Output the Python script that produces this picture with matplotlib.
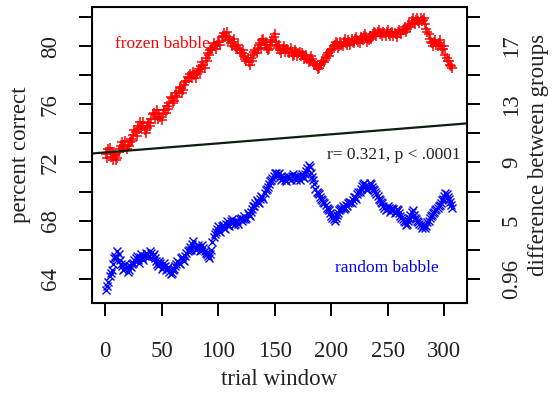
import numpy as np
import matplotlib
matplotlib.use("Agg")
import matplotlib.pyplot as plt

plt.rcParams['font.family'] = ['Liberation Serif', 'DejaVu Serif']

trials_odd = np.arange(1, 308, 2)
trials_even = np.arange(2, 307, 2)

frozen_odd = [
    72.6, 72.9, 72.4, 72.2, 72.5, 72.3, 72.9, 73.4, 73.2, 72.9,
    73.1, 73.6, 73.9, 74.1, 74.5, 74.8, 74.5, 74.2, 74.4, 74.7,
    75.0, 75.4, 75.3, 75.0, 75.1, 75.3, 75.6, 75.9, 76.1, 76.4,
    76.2, 76.8, 76.9, 77.1, 77.0, 77.5, 77.9, 78.1, 77.8, 78.0,
    78.1, 78.4, 78.6, 78.7, 79.2, 79.5, 79.7, 79.9, 80.0, 80.1,
    80.3, 80.6, 80.9, 80.7, 80.4, 80.2, 80.3, 80.0, 79.9, 79.7,
    79.5, 79.3, 79.0, 78.9, 79.2, 79.4, 79.7, 79.8, 80.2, 80.4,
    80.1, 79.9, 79.8, 80.3, 80.6, 80.3, 79.9, 79.7, 79.8, 79.6,
    79.8, 79.5, 79.6, 79.4, 79.6, 79.5, 79.3, 79.4, 79.3, 79.1,
    79.0, 79.1, 78.8, 78.6, 78.5, 78.8, 79.0, 79.2, 79.5, 79.6,
    79.8, 80.1, 80.2, 80.0, 80.1, 80.3, 80.2, 80.4, 80.1, 80.3,
    80.5, 80.4, 80.2, 80.5, 80.7, 80.6, 80.4, 80.5, 80.8, 80.9,
    81.0, 80.8, 80.7, 80.9, 81.0, 80.8, 80.9, 80.7, 80.8, 81.0,
    80.9, 81.1, 81.3, 81.2, 81.5, 81.7, 81.6, 81.8, 81.7, 81.9,
    81.8, 81.5, 81.0, 80.5, 80.2, 80.3, 80.1, 80.2, 80.0, 79.8,
    79.4, 79.0, 78.7, 78.5,
]
frozen_even = [
    72.3, 73.0, 72.7, 72.6, 72.2, 72.7, 73.1, 73.0, 73.5, 73.2,
    73.4, 73.5, 74.2, 73.8, 74.3, 74.4, 74.8, 74.0, 74.7, 74.5,
    75.3, 75.0, 75.6, 75.3, 74.9, 75.6, 75.4, 75.7, 76.5, 76.1,
    76.6, 76.5, 77.2, 76.8, 77.3, 77.6, 77.8, 77.9, 78.2, 77.8,
    78.3, 78.2, 78.9, 78.5, 79.0, 79.4, 79.8, 80.2, 79.8, 80.3,
    80.1, 80.7, 80.6, 81.0, 80.6, 80.0, 80.5, 79.8, 80.1, 79.5,
    79.7, 79.1, 79.2, 78.7, 79.0, 79.6, 79.5, 80.1, 79.9, 80.5,
    80.3, 79.7, 80.1, 80.4, 80.8, 80.0, 80.1, 79.5, 80.0, 79.8,
    79.6, 79.9, 79.3, 79.7, 79.3, 79.6, 79.5, 79.1, 79.4, 78.9,
    79.3, 78.9, 78.7, 78.4, 78.7, 79.0, 78.9, 79.4, 79.3, 79.7,
    80.0, 80.3, 79.9, 80.3, 80.0, 80.5, 80.1, 80.3, 80.5, 80.2,
    80.6, 80.3, 80.6, 80.4, 80.8, 80.3, 80.7, 80.6, 81.0, 80.7,
    81.1, 80.9, 81.0, 80.7, 81.1, 80.7, 81.0, 80.9, 80.6, 81.1,
    80.8, 81.2, 81.0, 81.4, 81.3, 81.9, 81.5, 81.9, 81.6, 81.7,
    81.9, 81.2, 80.8, 80.3, 80.0, 80.4, 80.0, 80.4, 79.8, 80.0,
    79.2, 79.0, 78.6,
]

random_odd = [
    63.2, 63.8, 64.4, 65.0, 65.6, 65.9, 65.3, 64.9, 64.7, 64.8,
    64.6, 64.8, 65.1, 65.4, 65.3, 65.5, 65.4, 65.6, 65.7, 65.6,
    65.8, 65.7, 65.2, 64.9, 65.1, 64.8, 64.9, 64.7, 64.5, 64.4,
    64.7, 65.0, 65.1, 65.4, 65.3, 65.6, 65.9, 66.2, 66.4, 66.2,
    66.1, 66.2, 66.0, 66.1, 65.8, 65.6, 65.7, 66.5, 67.1, 67.4,
    67.3, 67.6, 67.5, 67.8, 67.7, 68.0, 67.9, 67.8, 68.0, 68.1,
    68.0, 68.3, 68.2, 68.4, 68.6, 69.0, 69.2, 69.3, 69.5, 69.6,
    69.9, 70.2, 70.5, 70.8, 71.1, 71.3, 71.2, 71.0, 70.9, 70.8,
    71.0, 70.9, 71.1, 71.0, 70.8, 71.0, 71.1, 71.0, 71.2, 71.6,
    71.7, 71.0, 70.5, 70.0, 69.8, 69.5, 69.3, 69.1, 68.8, 68.5,
    68.2, 68.0, 68.4, 68.7, 68.9, 68.8, 69.1, 69.2, 69.3, 69.4,
    69.6, 69.8, 70.0, 70.4, 70.6, 70.2, 70.3, 70.5, 70.2, 70.0,
    69.7, 69.4, 69.2, 68.9, 68.8, 68.9, 68.7, 68.8, 68.6, 68.7,
    68.3, 68.1, 67.9, 67.8, 68.2, 68.6, 68.4, 68.1, 67.9, 67.7,
    67.6, 67.5, 67.9, 68.2, 68.4, 68.6, 68.8, 69.0, 69.2, 69.5,
    69.9, 69.6, 69.3, 68.9,
]
random_even = [
    63.5, 64.2, 64.6, 65.4, 65.4, 65.7, 65.0, 64.6, 65.0, 64.5,
    64.9, 65.0, 65.3, 65.6, 65.1, 65.7, 65.3, 65.8, 65.5, 65.9,
    65.6, 65.4, 65.0, 65.2, 64.7, 65.1, 64.6, 64.8, 64.3, 64.6,
    64.9, 65.2, 65.0, 65.5, 65.2, 65.8, 66.0, 66.0, 66.6, 66.0,
    66.3, 65.9, 66.3, 65.9, 65.7, 65.4, 66.0, 66.9, 67.2, 67.6,
    67.2, 67.7, 67.4, 68.0, 67.6, 68.1, 67.7, 68.0, 67.8, 68.2,
    68.1, 68.1, 68.5, 68.3, 68.8, 69.0, 69.4, 69.2, 69.7, 69.5,
    70.1, 70.3, 70.7, 70.9, 71.3, 71.1, 71.3, 70.8, 71.0, 70.7,
    71.1, 70.8, 71.2, 70.9, 71.1, 70.8, 71.2, 70.9, 71.4, 71.8,
    71.3, 70.8, 70.2, 69.9, 69.6, 69.4, 69.2, 68.9, 68.7, 68.3,
    68.1, 68.2, 68.5, 68.8, 69.0, 68.9, 69.0, 69.3, 69.2, 69.6,
    69.5, 70.0, 70.2, 70.5, 70.4, 70.1, 70.6, 70.3, 70.1, 69.8,
    69.5, 69.3, 69.0, 68.7, 69.0, 68.6, 68.9, 68.5, 68.8, 68.5,
    68.2, 68.0, 67.7, 68.0, 68.4, 68.7, 68.2, 68.0, 67.8, 67.5,
    67.7, 67.6, 68.0, 68.3, 68.5, 68.7, 68.9, 69.1, 69.4, 69.7,
    69.8, 69.5, 69.1,
]

# regression line of the group difference (drawn across the whole panel)
fit_intercept = 72.69
fit_slope = 0.00624

left_ticks = [64, 66, 68, 70, 72, 74, 76, 78, 80, 82]
left_labels = ["64", "", "68", "", "72", "", "76", "", "80", ""]
right_labels = ["0.96", "", "5", "", "9", "", "13", "", "17", ""]
x_ticks = [0, 50, 100, 150, 200, 250, 300]

trials = np.concatenate([trials_odd, trials_even])
frozen = np.concatenate([frozen_odd, frozen_even])
random_ = np.concatenate([random_odd, random_even])

fig = plt.figure(figsize=(5.55, 3.95), dpi=100)
ax = fig.add_axes([0.1658, 0.2329, 0.6756, 0.7494])

ax.plot(trials, frozen, linestyle='none', marker='+', color='#ff0000',
        markersize=7, markeredgewidth=1.1)
ax.plot(trials, random_, linestyle='none', marker='x', color='#0000ff',
        markersize=5.5, markeredgewidth=1.0)
ax.axline((0, fit_intercept), slope=fit_slope, color='#0d1f0d', linewidth=1.6)

ax.text(50.4, 80.14, "frozen babble", color='#ff0000', fontsize=12.5,
        ha='center', va='center')
ax.text(249.6, 64.76, "random babble", color='#0000ff', fontsize=12.5,
        ha='center', va='center')
ax.text(314, 72.5, "r= 0.321, p < .0001", color='#222222', fontsize=12.5,
        ha='right', va='center')

ax.set_xlim(-11.5, 320)
ax.set_ylim(62.34, 82.69)

ax.set_xticks(x_ticks)
ax.set_yticks(left_ticks)
ax.set_yticklabels(left_labels, rotation=90, va='center')
ax.tick_params(axis='both', direction='out', length=9.5, width=1.4,
               labelsize=16.5, colors='black', labelcolor='#222222')
ax.tick_params(axis='x', pad=18)
ax.tick_params(axis='y', pad=13)
for s in ax.spines.values():
    s.set_linewidth(1.4)

ax2 = ax.twinx()
ax2.set_ylim(ax.get_ylim())
ax2.set_yticks(left_ticks)
ax2.set_yticklabels(right_labels, rotation=90, va='center')
ax2.tick_params(axis='y', direction='out', length=9.5, width=1.4,
                labelsize=16.5, pad=15, labelcolor='#222222')

ax.set_xlabel("trial window", fontsize=16.5, color='#222222', labelpad=5)
ax.set_ylabel("percent correct", fontsize=16.5, color='#222222', labelpad=6)
ax2.set_ylabel("difference between groups", fontsize=16.5, color='#222222',
               labelpad=4)

fig.savefig("out.png", dpi=100)
